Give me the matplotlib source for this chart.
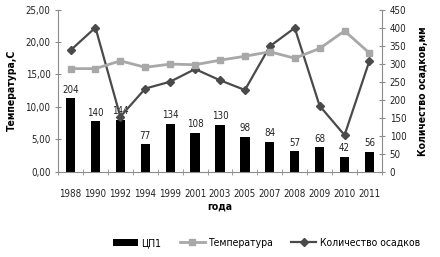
import numpy as np
import matplotlib.pyplot as plt

# data
years = ["1988", "1990", "1992", "1994", "1999", "2001", "2003",
         "2005", "2007", "2008", "2009", "2010", "2011"]
cp1 = [204, 140, 144, 77, 134, 108, 130, 98, 84, 57, 68, 42, 56]
temperature = [15.9, 15.9, 17.1, 16.1, 16.6, 16.5, 17.2,
               17.8, 18.5, 17.5, 19.0, 21.7, 18.3]
precip = [337, 400, 153, 231, 250, 285, 254, 227, 348, 399, 183, 102, 308]
left_ticks = [0, 5, 10, 15, 20, 25]
right_ticks = [0, 50, 100, 150, 200, 250, 300, 350, 400, 450]

plt.rcParams["font.family"] = ["DejaVu Sans"]
plt.rcParams["font.stretch"] = "condensed"
plt.rcParams["font.size"] = 7

axis_col = "#8c8c8c"
text_col = "#222222"

fig = plt.figure(figsize=(4.4, 2.57), dpi=100)
ax = fig.add_axes([0.132, 0.331, 0.736, 0.632])
ax2 = ax.twinx()

x = np.arange(len(years))

# столбики по правой шкале
bars = ax2.bar(x, cp1, width=0.37, color="black", label="ЦП1", zorder=2)
for xi, v in zip(x, cp1):
    ax2.text(xi, v + 10, str(v), ha="center", va="bottom", color=text_col)

l2, = ax2.plot(x, precip, color="#4a4a4a", lw=1.6, marker="D", ms=4,
               label="Количество осадков", zorder=4)
l1, = ax.plot(x, temperature, color="#a8a8a8", lw=2.0, marker="s", ms=5,
              label="Температура", zorder=3)

ax.set_zorder(ax2.get_zorder() + 1)
ax.patch.set_visible(False)

ax.set_xlim(-0.5, len(years) - 0.5)
ax.set_ylim(0, 25)
ax2.set_ylim(0, 450)
ax.set_yticks(left_ticks)
ax.set_yticklabels([f"{t:.2f}".replace(".", ",") for t in left_ticks])
ax2.set_yticks(right_ticks)
ax.set_xticks(x)
ax.set_xticklabels(years)
ax.set_xticks(np.arange(-0.5, len(years), 1), minor=True)
ax.tick_params(axis="x", which="major", length=0, pad=12, colors=text_col)
ax.tick_params(axis="x", which="minor", length=4, direction="inout", color=axis_col)
ax.tick_params(axis="y", length=4, direction="inout", color=axis_col, colors=text_col)
ax2.tick_params(axis="y", length=4, direction="inout", color=axis_col, colors=text_col)
for a in (ax, ax2):
    a.spines["top"].set_visible(False)
    for s in ("left", "right", "bottom"):
        a.spines[s].set_color(axis_col)
ax.spines["right"].set_visible(False)
ax2.spines["left"].set_visible(False)
ax2.spines["bottom"].set_visible(False)

ax.set_xlabel("года", fontweight="bold", fontsize=7.5, labelpad=2)
ax.set_ylabel("Температура,С", fontweight="bold", fontsize=7.5, labelpad=6)
ax2.set_ylabel("Количество осадков,мм", fontweight="bold", fontsize=7.5,
               rotation=90, labelpad=8)

fig.legend([bars, l1, l2], ["ЦП1", "Температура", "Количество осадков"],
           loc="center", bbox_to_anchor=(0.605, 0.055), ncol=3, frameon=False,
           fontsize=7.5, handlelength=2.4, columnspacing=1.8, handletextpad=0.3)

fig.savefig("out.png", dpi=100)
